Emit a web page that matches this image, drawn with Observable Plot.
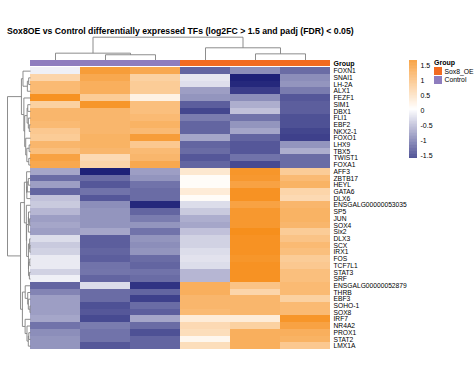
<!DOCTYPE html>
<html><head><meta charset="utf-8">
<script src="https://cdn.jsdelivr.net/npm/d3@7"></script>
<script src="https://cdn.jsdelivr.net/npm/@observablehq/plot@0.6"></script>
<style>
body{margin:0;background:#fff;font-family:"Liberation Sans",Arial,sans-serif;}
#wrap{position:relative;width:474px;height:379px;overflow:hidden;background:#fff;}
#wrap svg{position:absolute;left:0;top:0;}
#title{position:absolute;left:7px;top:26px;font-size:8.7px;font-weight:bold;white-space:nowrap;color:#000;}
#glegend{position:absolute;left:434px;top:59px;font-size:6.8px;color:#000;}
#glegend .t{font-weight:bold;margin-bottom:1px;font-size:7px;}
#glegend .r{display:flex;align-items:center;height:8.5px;}
#glegend .b{width:8px;height:8px;margin-right:2.5px;}
</style></head><body>
<div id="wrap"><div id="title"></div><div id="glegend"></div></div>
<script>
const title = "Sox8OE vs Control differentially expressed TFs (log2FC > 1.5 and padj (FDR) < 0.05)";
const genes = ["FOXN1","SNAI1","LH-2A","ALX1","FEZF1","SIM1","DBX1","FLI1","EBF2","NKX2-1","FOXO1","LHX9","TBX5","TWIST1","FOXA1",
  "AFF3","ZBTB17","HEYL","GATA6","DLX6","ENSGALG00000053035","SP5","JUN","SOX4","Six2","DLX3","SCX","IRX1","FOS","TCF7L1","STAT3","SRF",
  "ENSGALG00000052879","THRB","EBF3","SOHO-1","SOX8","IRF7","NR4A2","PROX1","STAT2","LMX1A"];
const samples = ["Control_1","Control_2","Control_3","Sox8_OE_1","Sox8_OE_2","Sox8_OE_3"];
const sampleGroup = ["Control","Control","Control","Sox8_OE","Sox8_OE","Sox8_OE"];
const groupNames = ["Sox8_OE","Control"];
const groupColors = ["#F26B21","#8E7DBE"];

const ctrl1 = [-0.08,0.62,1.0,1.0,1.55,0.68,1.05,1.05,1.0,0.8,0.75,1.05,0.93,1.33,1.25,
  -0.62,-1.05,-0.68,-1.1,-0.42,-0.36,-0.5,-0.68,-0.62,-0.68,-0.22,-0.36,-0.3,-0.12,-0.12,-0.3,-0.08,
  -1.1,-0.87,-0.68,-0.68,-0.68,-0.62,-1.0,-0.8,-0.75,-0.75];
const ctrl2 = [1.4,1.25,1.15,1.15,0.75,1.5,1.05,1.05,1.05,1.05,1.1,1.1,1.05,0.56,0.62,
  -1.63,-1.05,-1.2,-1.0,-1.2,-0.8,-0.75,-0.75,-0.75,-0.62,-1.15,-1.15,-1.1,-1.15,-1.0,-0.98,-1.1,
  -0.22,-1.05,-1.05,-1.25,-1.2,-1.3,-0.93,-1.0,-1.0,-1.2];
const ctrl3 = [1.25,0.68,0.75,0.75,0.22,0.93,0.93,1.0,1.1,1.0,1.4,0.8,1.0,1.05,1.25,
  -0.68,-0.75,-1.0,-1.05,-1.05,-1.55,-1.1,-0.93,-0.75,-1.0,-0.75,-0.8,-0.75,-1.05,-1.1,-1.0,-1.05,
  -1.47,-1.1,-1.37,-1.05,-1.15,-0.62,-1.05,-1.25,-1.1,-1.1];
const oe1 = [-1.1,-0.15,-0.2,-0.68,-0.75,-1.15,-1.33,-0.93,-1.1,-1.1,-0.62,-1.1,-1.05,-1.2,-1.1,
  0.36,0.08,0.08,0.3,0.08,-0.22,-0.36,-0.56,-0.62,-0.42,-0.3,-0.3,-0.22,-0.18,-0.22,-0.5,-0.5,
  1.15,1.15,1.05,1.05,1.0,0.3,0.56,0.5,0.15,0.5];
const oe2 = [-0.8,-1.63,-1.55,-1.4,-0.8,-0.56,-0.42,-1.0,-0.75,-0.62,-1.1,-1.2,-1.2,-1.0,-1.3,
  1.5,1.47,1.33,1.55,1.55,1.33,1.47,1.47,1.47,1.6,1.55,1.55,1.55,1.5,1.55,1.55,1.55,
  0.87,0.62,1.05,1.05,1.05,0.3,0.68,1.15,1.15,1.15];
const oe3 = [-1.05,-0.8,-0.75,-0.93,-1.2,-1.15,-1.15,-1.25,-1.25,-1.33,-1.37,-0.75,-0.56,-1.05,-1.05,
  0.75,1.0,1.1,0.62,0.56,1.05,1.1,1.1,1.05,0.75,0.87,1.0,0.93,0.75,0.8,0.93,0.93,
  1.0,1.0,0.68,1.0,1.0,1.5,1.33,1.15,1.1,0.8];

// column dendrogram (hclust-style merge list: negative = leaf, positive = earlier merge)
const colMerge = [[-2,-3],[-1,1],[-5,-6],[-4,3],[2,4]];
const colHeight = [0.23,0.30,0.27,0.535,1];

const legendTicks = [-1.5,-1,-0.5,0,0.5,1,1.5];
const legendRange = [-1.6,1.667];

// ---- build ----
const cols = [ctrl1,ctrl2,ctrl3,oe1,oe2,oe3];
const cells = [];
genes.forEach((g,i)=>cols.forEach((c,j)=>cells.push({gene:g,row:i,col:j,value:c[i]})));

const color = {type:"linear", domain:[legendRange[0],(legendRange[0]+legendRange[1])/2,legendRange[1]],
  range:["#1e2178","#ffffff","#F68A12"], interpolate:"rgb", clamp:true};

// row dendrogram: order-preserving complete-linkage clustering (euclidean)
const vec = i=>cols.map(c=>c[i]);
const dist = (a,b)=>Math.hypot(...a.map((v,k)=>v-b[k]));
let clusters = genes.map((g,i)=>({members:[i],pos:i+0.5,h:0}));
const rowSegs = [];
while(clusters.length>1){
  let best=0,bd=Infinity;
  for(let k=0;k<clusters.length-1;k++){
    let d=0;
    for(const a of clusters[k].members) for(const b of clusters[k+1].members) d=Math.max(d,dist(vec(a),vec(b)));
    if(d<bd){bd=d;best=k;}
  }
  const L=clusters[best],R=clusters[best+1];
  const h=Math.max(bd,L.h,R.h);
  rowSegs.push({h1:L.h,h2:h,p1:L.pos,p2:L.pos},{h1:R.h,h2:h,p1:R.pos,p2:R.pos},{h1:h,h2:h,p1:L.pos,p2:R.pos});
  clusters.splice(best,2,{members:[...L.members,...R.members],pos:(L.pos+R.pos)/2,h});
}
const rootH = clusters[0].h;
const rowW = 0.46; // dendrogram width in column units
const rx = h=>-rowW*h/rootH;

const colNodes=[],colSegs=[];
colMerge.forEach(([a,b],k)=>{
  const get=v=>v<0?{pos:-v-1+0.5,h:0}:colNodes[v-1];
  const A=get(a),B=get(b),h=colHeight[k];
  colNodes.push({pos:(A.pos+B.pos)/2,h});
  colSegs.push({p1:A.pos,p2:A.pos,h1:A.h,h2:h},{p1:B.pos,p2:B.pos,h1:B.h,h2:h},{p1:A.pos,p2:B.pos,h1:h,h2:h});
});
const colMax = d3.max(colHeight);
const leafY=-1.16, colDH=3.4;
const cy = h=>leafY-colDH*h/colMax;

const annY1=-1.09, annY2=-0.24;
const font = "'Liberation Sans', Arial, sans-serif";

const main = Plot.plot({
  width:474,height:379,margin:0,
  x:{domain:[-rowW,6],range:[7,330],axis:null},
  y:{domain:[-4.56,42],range:[36.7,349],axis:null},
  color,
  style:{fontFamily:font,background:"transparent"},
  marks:[
    Plot.rect(cells,{x1:"col",x2:d=>d.col+1,y1:"row",y2:d=>d.row+1,fill:"value",shapeRendering:"crispEdges"}),
    ...groupNames.map((gname,gi)=>Plot.rect(samples.map((s,i)=>({s,i,g:sampleGroup[i]})).filter(d=>d.g===gname),
      {x1:"i",x2:d=>d.i+1,y1:()=>annY1,y2:()=>annY2,fill:groupColors[gi],shapeRendering:"crispEdges"})),
    Plot.link(rowSegs,{x1:d=>rx(d.h1),x2:d=>rx(d.h2),y1:"p1",y2:"p2",stroke:"#808080",strokeWidth:0.9}),
    Plot.link(colSegs,{x1:"p1",x2:"p2",y1:d=>cy(d.h1),y2:d=>cy(d.h2),stroke:"#808080",strokeWidth:0.9}),
    Plot.text(genes,{x:()=>6,y:(d,i)=>i+0.5,text:d=>d,dx:3,textAnchor:"start",fontSize:6.7,fill:"#000"}),
    Plot.text(["Group"],{x:()=>6,y:()=>(annY1+annY2)/2,text:d=>d,dx:3,textAnchor:"start",fontSize:7,fontWeight:"bold",fill:"#000"})
  ]
});
document.getElementById("wrap").appendChild(main);

const step=0.01;
const steps=d3.range(legendRange[0],legendRange[1],step);
const leg = Plot.plot({
  width:474,height:379,margin:0,
  x:{domain:[0,1],range:[409,417],axis:null},
  y:{domain:legendRange,range:[158,60],axis:null},
  color,
  style:{fontFamily:font,background:"transparent"},
  marks:[
    Plot.rect(steps,{x1:()=>0,x2:()=>1,y1:d=>d,y2:d=>Math.min(d+step*1.2,legendRange[1]),fill:d=>d+step/2}),
    Plot.text(legendTicks,{x:()=>1,y:d=>d,text:d=>String(d),dx:3,textAnchor:"start",fontSize:7,fill:"#000"})
  ]
});
leg.style.pointerEvents="none";
document.getElementById("wrap").appendChild(leg);

document.getElementById("title").textContent = title;
const gl = document.getElementById("glegend");
gl.innerHTML = `<div class="t">Group</div>` + groupNames.map((g,i)=>`<div class="r"><div class="b" style="background:${groupColors[i]}"></div>${g}</div>`).join("");
</script>
</body></html>
